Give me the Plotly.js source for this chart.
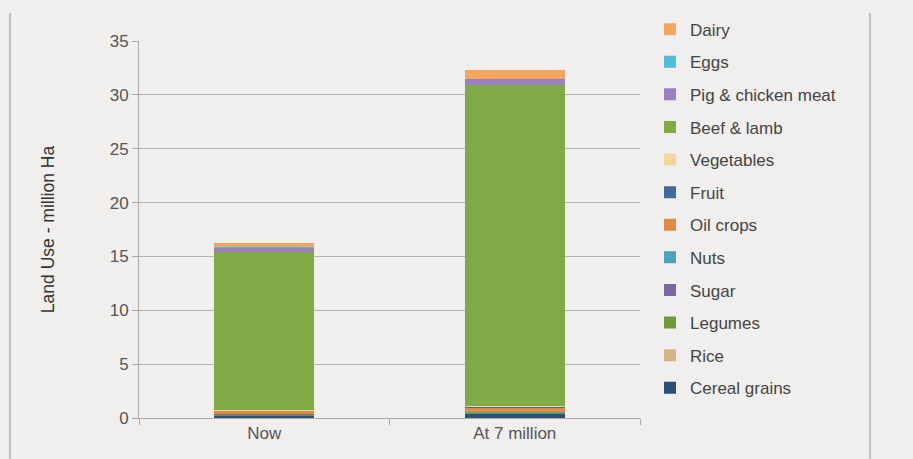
<!DOCTYPE html>
<html>
<head>
<meta charset="utf-8">
<script src="https://cdn.plot.ly/plotly-3.0.1.min.js"></script>
<style>
html,body{margin:0;padding:0;background:#f0efed;}
#chart{width:913px;height:459px;}
</style>
</head>
<body>
<div id="chart"></div>
<script>
const categories = ["Now", "At 7 million"];
// stacking order bottom -> top
const seriesNames = ["Cereal grains","Rice","Legumes","Sugar","Nuts","Oil crops","Fruit","Vegetables","Beef & lamb","Pig & chicken meat","Eggs","Dairy"];
const cerealGrains = [0.18, 0.35];
const rice = [0.02, 0.02];
const legumes = [0.1, 0.05];
const sugar = [0.03, 0.03];
const nuts = [0.02, 0.1];
const oilCrops = [0.28, 0.35];
const fruit = [0.03, 0.1];
const vegetables = [0.1, 0.12];
const beefLamb = [14.65, 29.75];
const pigChicken = [0.4, 0.6];
const eggs = [0.03, 0.03];
const dairy = [0.4, 0.82];
const seriesValues = [cerealGrains, rice, legumes, sugar, nuts, oilCrops, fruit, vegetables, beefLamb, pigChicken, eggs, dairy];
const seriesColors = ["#2c5079","#d6b483","#6c9a3a","#7c65a3","#48a3bb","#dd8b45","#3e6b9b","#f3d49c","#7faa45","#9a80c2","#4dbdd8","#f3a75c"];
const yTicks = [0,5,10,15,20,25,30,35];

const traces = seriesNames.map((n,i)=>({
  type:"bar", name:n, x:categories, y:seriesValues[i],
  marker:{color:seriesColors[i], line:{width:0}},
  legendgroup:"g"+i, legendrank: 100 - i, hoverinfo:"name+y"
}));

const layout = {
  width:913, height:459,
  paper_bgcolor:"#f0efed", plot_bgcolor:"#f0efed",
  barmode:"stack", bargap:0.6,
  margin:{l:139, r:273, t:41, b:41},
  font:{family:"Liberation Sans, Arial, sans-serif", color:"#444"},
  showlegend:true,
  legend:{x:1.02, xanchor:"left", y:1.078, yanchor:"top", traceorder:"grouped", tracegroupgap:7.5,
          font:{size:17, color:"#444"}, bgcolor:"rgba(0,0,0,0)", itemwidth:30, maxheight:459},
  xaxis:{type:"category", showgrid:false, showline:true, linecolor:"#aaa", linewidth:1,
         ticks:"outside", tickson:"boundaries", ticklen:6, tickcolor:"#aaa",
         tickfont:{size:17, color:"#555"}, fixedrange:true},
  yaxis:{range:[0,35], tickvals:yTicks, ticktext:yTicks.map(String), showgrid:true, gridcolor:"#b4b4b4", gridwidth:1,
         showline:true, linecolor:"#aaa", linewidth:1, ticks:"outside", ticklen:6, tickcolor:"#aaa",
         zeroline:false, tickfont:{size:17, color:"#555"},
         title:{text:"Land Use - million Ha", font:{size:17.5, color:"#333"}, standoff:50}, fixedrange:true},
  shapes:[
    {type:"line", xref:"paper", yref:"paper", x0:-0.2575, x1:-0.2575, y0:1.074, y1:-0.12, line:{color:"#bdbdbd", width:2}},
    {type:"line", xref:"paper", yref:"paper", x0:1.459, x1:1.459, y0:1.074, y1:-0.12, line:{color:"#bdbdbd", width:2}}
  ]
};

Plotly.newPlot("chart", traces, layout, {displayModeBar:false, staticPlot:true});
</script>
</body>
</html>
